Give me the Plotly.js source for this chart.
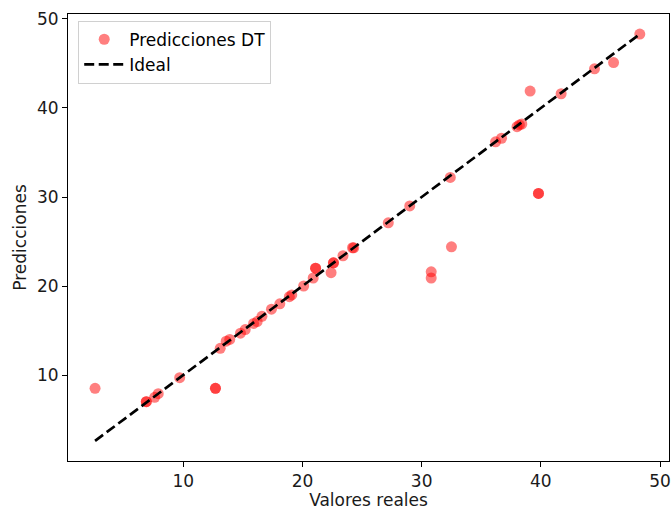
<!DOCTYPE html>
<html>
<head>
<meta charset="utf-8">
<script src="https://cdn.plot.ly/plotly-3.0.1.min.js"></script>
<style>html,body{margin:0;padding:0;background:#fff;}#chart{width:672px;height:510px;}</style>
</head>
<body>
<div id="chart"></div>
<script>
// Valores reales (x) y predicciones (y)
var valoresReales = [2.6, 12.7, 12.7, 6.9, 6.9, 7.6, 7.9, 9.7, 13.1, 13.6, 13.9, 14.8, 15.2, 15.9, 16.2, 16.6, 17.4, 18.1, 18.9, 19.1, 20.1, 20.9, 21.1, 21.1, 22.4, 22.6, 22.6, 23.4, 24.2, 24.3, 27.2, 29.0, 32.4, 32.5, 30.8, 30.8, 36.2, 36.7, 38.0, 38.2, 38.4, 39.1, 39.8, 39.8, 41.7, 44.5, 46.1, 48.3];
var predicciones  = [8.5, 8.5, 8.5, 7.0, 7.0, 7.5, 7.9, 9.7, 13.0, 13.8, 14.0, 14.7, 15.1, 15.8, 16.0, 16.6, 17.4, 18.0, 18.8, 19.0, 20.0, 20.9, 22.0, 22.0, 21.5, 22.6, 22.6, 23.4, 24.3, 24.3, 27.1, 29.0, 32.2, 24.4, 21.6, 20.9, 36.2, 36.6, 37.9, 38.1, 38.2, 41.9, 30.4, 30.4, 41.6, 44.4, 45.1, 48.3];
var idealX = [2.6, 48.3];
var idealY = [2.6, 48.3];

var font = {family: 'DejaVu Sans, sans-serif', size: 17, color: '#1a1a1a'};

var traces = [
  {
    x: valoresReales, y: predicciones, mode: 'markers', type: 'scatter',
    name: 'Predicciones DT',
    marker: {color: 'rgba(255,0,0,0.5)', size: 11, line: {width: 0}}
  },
  {
    x: idealX, y: idealY, mode: 'lines', type: 'scatter', name: 'Ideal',
    line: {color: 'black', width: 2.7, dash: '10px,4.5px'}
  }
];

var axisCommon = {
  showgrid: false, zeroline: false, showline: true, mirror: true,
  linecolor: 'black', linewidth: 1, ticks: 'outside', ticklen: 5,
  tickcolor: 'black', tickwidth: 1, tickfont: font
};

var layout = {
  width: 672, height: 510,
  margin: {l: 68, r: 3, t: 14, b: 49},
  paper_bgcolor: '#fff', plot_bgcolor: '#fff',
  font: font,
  showlegend: true,
  legend: {
    x: 0.017, y: 0.985, xanchor: 'left', yanchor: 'top',
    bgcolor: 'rgba(255,255,255,0.8)', bordercolor: '#d0d0d0', borderwidth: 1,
    font: {family: 'DejaVu Sans, sans-serif', size: 17, color: '#000'},
    itemwidth: 40, tracegroupgap: 0
  },
  xaxis: Object.assign({}, axisCommon, {
    range: [0.33, 50.75], tickvals: [10, 20, 30, 40, 50],
    title: {text: 'Valores reales', font: font, standoff: 4}
  }),
  yaxis: Object.assign({}, axisCommon, {
    range: [0.34, 50.56], tickvals: [10, 20, 30, 40, 50],
    title: {text: 'Predicciones', font: font, standoff: 6}
  })
};

Plotly.newPlot('chart', traces, layout, {displayModeBar: false, staticPlot: true});
</script>
</body>
</html>
